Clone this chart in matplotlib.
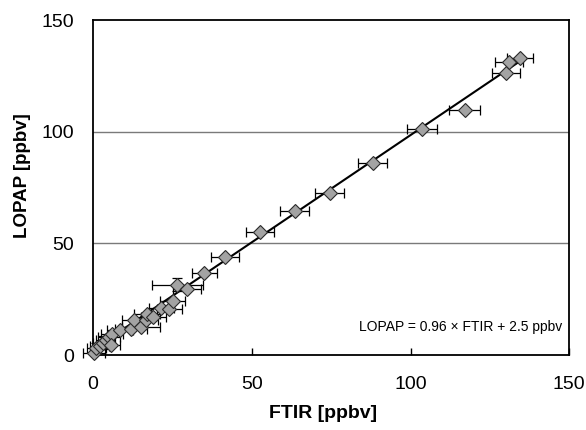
import matplotlib
matplotlib.use("Agg")
import matplotlib.pyplot as plt
import numpy as np

plt.rcParams['font.family'] = ['Liberation Sans', 'DejaVu Sans']

# Data
ftir = [0.3, 1.0, 2.0, 3.0, 4.0, 5.0, 6.0, 5.5, 8.5, 12.0, 13.0, 15.0, 16.5,
        17.0, 19.0, 21.5, 24.0, 25.0, 26.5, 29.5, 35.0, 41.5, 52.5, 63.5,
        74.5, 88.0, 103.5, 117.0, 130.0, 131.0, 134.5]
lopap = [1.0, 3.0, 4.0, 5.5, 6.5, 8.0, 9.5, 4.5, 11.0, 11.5, 15.5, 12.5, 15.5,
         18.5, 17.0, 21.0, 20.5, 24.0, 31.5, 29.5, 36.5, 44.0, 55.0, 64.5,
         72.5, 86.0, 101.0, 109.5, 126.5, 131.0, 133.0]
ftir_err = [3.5, 3.0, 3.0, 3.0, 3.0, 3.5, 3.5, 3.0, 4.0, 5.0, 4.0, 6.0, 4.0,
            4.0, 4.0, 4.0, 4.0, 4.0, 8.0, 4.5, 4.0, 4.5, 4.5, 4.5,
            4.5, 4.5, 4.7, 4.8, 4.5, 4.5, 4.0]
lopap_err = [0, 2.5, 0, 3.0, 0, 0, 0, 0, 0, 0, 0, 0, 0,
             0, 0, 0, 0, 0, 3.0, 0, 0, 0, 0, 0,
             0, 0, 0, 0, 0, 0, 0]
slope = 0.96
intercept = 2.5
fit_range = [0, 136]
x_ticks = [0, 50, 100, 150]
y_ticks = [0, 50, 100, 150]

fig = plt.figure(figsize=(5.86, 4.30), dpi=100)
ax = fig.add_axes([0.159, 0.1744, 0.8125, 0.779])

ax.set_xlim(0, 150)
ax.set_ylim(0, 150)

for yv in [50, 100]:
    ax.axhline(yv, color='#7a7a7a', lw=1.0, zorder=0)

xf = np.array(fit_range)
ax.plot(xf, slope * xf + intercept, color='black', lw=1.5, zorder=2)

ax.errorbar(ftir, lopap, xerr=ftir_err, yerr=lopap_err, fmt='none',
            ecolor='black', elinewidth=0.9, capsize=3.5, capthick=0.9,
            zorder=3, clip_on=False)
ax.plot(ftir, lopap, linestyle='none', marker='D', markersize=7.3,
        markerfacecolor='#a3a3a3', markeredgecolor='#2a2a2a',
        markeredgewidth=0.8, zorder=4, clip_on=False)

ax.set_xticks(x_ticks)
ax.set_yticks(y_ticks)
ax.tick_params(axis='x', direction='in', length=5, width=1, pad=15,
               labelsize=14)
ax.tick_params(axis='y', direction='in', length=0, pad=14, labelsize=14)
for s in ax.spines.values():
    s.set_linewidth(1.3)

ax.set_xlabel('FTIR [ppbv]', fontsize=14, fontweight='bold')
ax.set_ylabel('LOPAP [ppbv]', fontsize=13.5, fontweight='bold')
ax.xaxis.set_label_coords(0.483, -0.15)
ax.yaxis.set_label_coords(-0.13, 0.537)

ax.text(0.985, 0.084, 'LOPAP = 0.96 × FTIR + 2.5 ppbv', transform=ax.transAxes,
        ha='right', va='center', fontsize=10)

fig.savefig('out.png', dpi=100)
